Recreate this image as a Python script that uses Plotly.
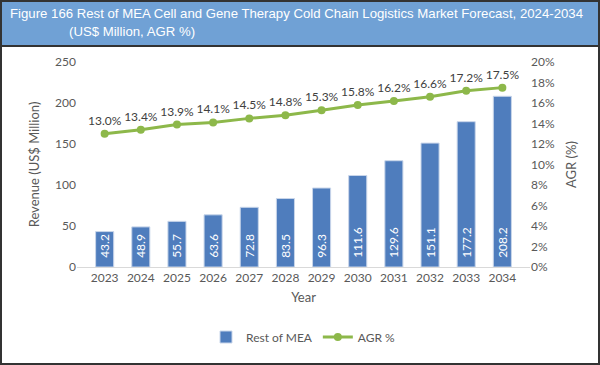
import plotly.graph_objects as go

years = ["2023", "2024", "2025", "2026", "2027", "2028", "2029", "2030", "2031", "2032", "2033", "2034"]
revenue = [43.2, 48.9, 55.7, 63.6, 72.8, 83.5, 96.3, 111.6, 129.6, 151.1, 177.2, 208.2]
agr = [13.0, 13.4, 13.9, 14.1, 14.5, 14.8, 15.3, 15.8, 16.2, 16.6, 17.2, 17.5]

W, H = 600, 365
L, R, T, B = 77, 70, 62, 98
PW, PH = W - L - R, H - T - B

def px(x):
    return (x - L) / PW

def py(y):
    return (H - B - y) / PH

FONT = "Lato"
GRAY = "#595959"
BAR = "#4f7dbd"
GREEN = "#8db84a"

fig = go.Figure()
fig.add_trace(go.Bar(
    x=years, y=revenue, name="Rest of MEA",
    marker=dict(color=BAR, line=dict(color="#c9d6ea", width=1)),
    width=0.5,
    text=["\u00a0\u00a0" + f"{v:.1f}" for v in revenue],
    textposition="inside", insidetextanchor="start", textangle=-90,
    constraintext="none",
    textfont=dict(color="white", size=12, family=FONT),
    cliponaxis=False,
))
fig.add_trace(go.Scatter(
    x=years, y=[a / 100 for a in agr], name="AGR %", yaxis="y2",
    mode="lines+markers+text",
    line=dict(color=GREEN, width=3),
    marker=dict(color=GREEN, size=8),
    text=[f"{a:.1f}%" for a in agr], textposition="top center",
    textfont=dict(color="#404040", size=12, family=FONT),
    cliponaxis=False,
))

shapes = [
    dict(type="rect", xref="paper", yref="paper", x0=px(0), x1=px(W), y0=py(0), y1=py(46),
         fillcolor="#70a1d5", line=dict(width=0), layer="below"),
    dict(type="line", xref="paper", yref="paper", x0=px(0), x1=px(W), y0=py(46), y1=py(46),
         line=dict(color="#333333", width=2)),
    dict(type="rect", xref="paper", yref="paper", x0=px(1), x1=px(W - 1), y0=py(1), y1=py(H - 1),
         line=dict(color="#333333", width=2), fillcolor="rgba(0,0,0,0)"),
]

annotations = [
    dict(text="Figure 166 Rest of MEA Cell and Gene Therapy Cold Chain Logistics Market Forecast, 2024-2034",
         xref="paper", yref="paper", x=px(8), y=py(13), xanchor="left", yanchor="middle",
         showarrow=False, font=dict(family="Liberation Sans, Arial", size=13.2, color="white")),
    dict(text="(US$ Million, AGR %)",
         xref="paper", yref="paper", x=px(67), y=py(31), xanchor="left", yanchor="middle",
         showarrow=False, font=dict(family="Liberation Sans, Arial", size=13.2, color="white")),
]

fig.update_layout(
    width=W, height=H,
    margin=dict(l=L, r=R, t=T, b=B),
    paper_bgcolor="white", plot_bgcolor="white",
    font=dict(family=FONT, color=GRAY, size=12),
    showlegend=True,
    legend=dict(orientation="h", x=0.5, xanchor="center", y=py(337), yanchor="middle",
                font=dict(family=FONT, size=12, color=GRAY)),
    bargap=0.5,
    xaxis=dict(type="category", showgrid=False, showline=True, linecolor="#d9d9d9", linewidth=1,
               ticks="", tickfont=dict(size=12, color=GRAY),
               title=dict(text="Year", font=dict(size=13, color=GRAY), standoff=8)),
    yaxis=dict(range=[0, 250], dtick=50, showgrid=False, zeroline=False, showline=False,
               tickfont=dict(size=12, color=GRAY), ticks="",
               title=dict(text="Revenue (US$ Million)", font=dict(size=13, color=GRAY), standoff=12)),
    yaxis2=dict(range=[0, 0.2], dtick=0.02, tickformat=".0%", overlaying="y", side="right",
                showgrid=False, zeroline=False, showline=False, ticks="",
                tickfont=dict(size=12, color=GRAY),
                title=dict(text="AGR (%)", font=dict(size=13, color=GRAY), standoff=12)),
    shapes=shapes, annotations=annotations,
)

fig.write_html("out.html", config={"displayModeBar": False},
               post_script="document.body.style.margin='0';document.body.style.overflow='hidden';")
